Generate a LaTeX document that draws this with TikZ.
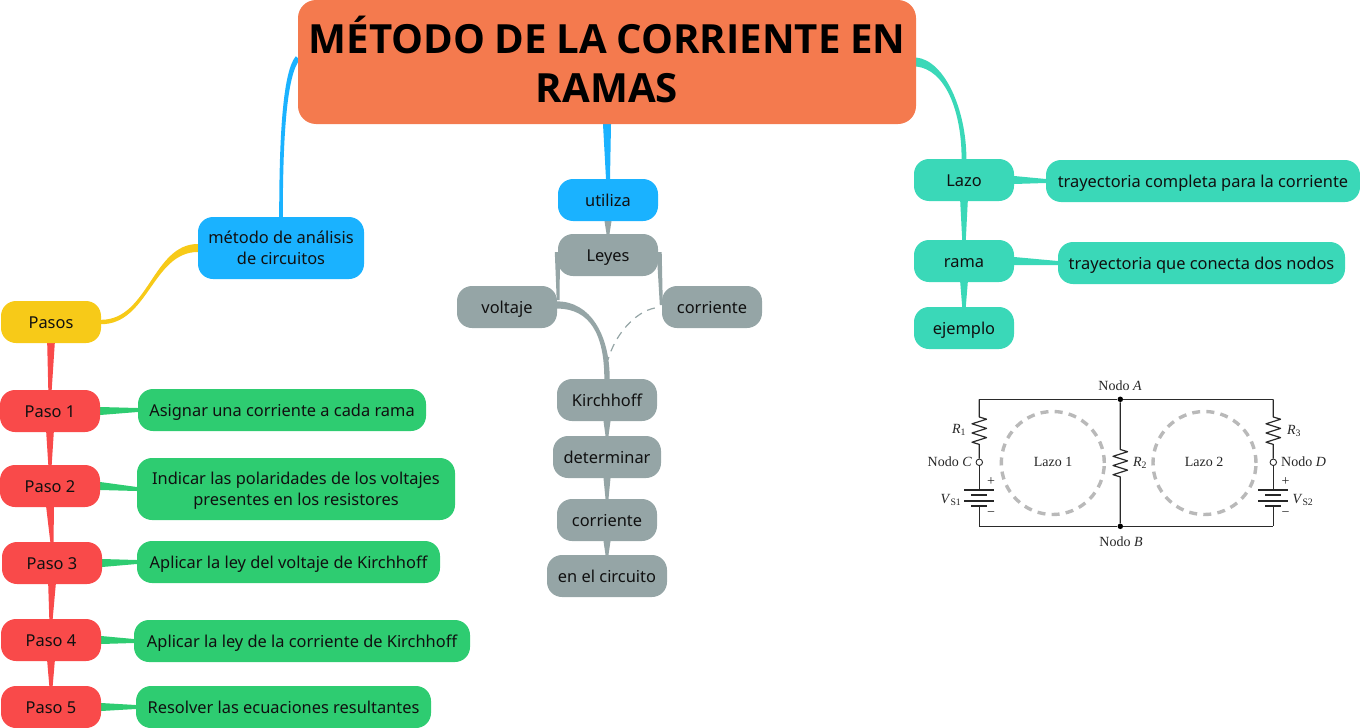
\documentclass[tikz,border=0pt]{standalone}
\usepackage{fontspec}
\setmainfont{Noto Sans}
\newfontfamily\titlef{Open Sans}
\newfontfamily\serifc{Liberation Serif}
\usetikzlibrary{calc,backgrounds}
\definecolor{orangeT}{HTML}{F47A4E}
\definecolor{blueB}{HTML}{1AB2FF}
\definecolor{greyB}{HTML}{95A5A6}
\definecolor{yellowB}{HTML}{F7CA18}
\definecolor{redB}{HTML}{F94A4A}
\definecolor{greenB}{HTML}{2ECC71}
\definecolor{tealB}{HTML}{3AD8B8}
\definecolor{txtc}{HTML}{101010}
\definecolor{wirec}{HTML}{2A2A2A}
\definecolor{loopc}{HTML}{B9B9B9}
\tikzset{
  box/.style={rounded corners=15pt,inner sep=0pt,align=center,text=txtc,font=\fontsize{16.4}{21}\selectfont,minimum height=42pt,text height=16.5pt,text depth=4pt},
  twolines/.style={text height={},text depth={},minimum height=62pt},
  titlebox/.style={box,twolines,fill=orangeT,text=black,rounded corners=18pt,font=\titlef\fontsize{40.2}{49}\selectfont\bfseries},
  bluebox/.style={box,fill=blueB},
  greybox/.style={box,fill=greyB},
  yellowbox/.style={box,fill=yellowB},
  redbox/.style={box,fill=redB},
  greenbox/.style={box,fill=greenB},
  tealbox/.style={box,fill=tealB},
  wire/.style={draw=wirec,line width=1.2pt},
  plate/.style={draw=black!85,line width=2.1pt},
  cirtext/.style={inner sep=0pt,text=black!85,font=\serifc\fontsize{14}{16}\selectfont},
  loopring/.style={draw=loopc,line width=3.4pt,dash pattern=on 8pt off 6.2pt},
  dotnode/.style={circle,fill=black,inner sep=0pt,minimum size=5.5pt},
  opennode/.style={circle,draw=wirec,fill=white,line width=.9pt,inner sep=0pt,minimum size=6.5pt}
}
% straight taper: colour, A, half-width vector at A, B, half-width vector at B
\newcommand\taper[5]{\fill[#1] ($(#2)+(#3)$) -- ($(#4)+(#5)$) -- ($(#4)-(#5)$) -- ($(#2)-(#3)$) -- cycle;}
% curved taper: colour, A, half A, ctrl off A, B, half B, ctrl off B
\newcommand\ctaper[7]{\fill[#1] ($(#2)+(#3)$) .. controls ($(#2)+(#3)+(#4)$) and ($(#5)+(#6)+(#7)$) .. ($(#5)+(#6)$) -- ($(#5)-(#6)$) .. controls ($(#5)-(#6)+(#7)$) and ($(#2)-(#3)+(#4)$) .. ($(#2)-(#3)$) -- cycle;}
\begin{document}
\begin{tikzpicture}[x=1pt,y=-1pt]
\useasboundingbox (0,0) rectangle (1360,728);
% nodes
\node[titlebox,minimum width=618pt,minimum height=124pt,text width=618pt] (title) at (607,62) {\spaceskip=9.5pt\relax MÉTODO DE LA CORRIENTE EN\\RAMAS\rule[-6pt]{0pt}{6pt}};
\node[bluebox,minimum width=100pt] (utiliza) at (608,200) {utiliza};
\node[greybox,minimum width=100pt] (leyes) at (608,255) {Leyes};
\node[greybox,minimum width=100pt] (voltaje) at (507,307) {voltaje};
\node[greybox,minimum width=100pt] (corr) at (712,307) {corriente};
\node[greybox,minimum width=100pt] (kirch) at (607,400) {Kirchhoff};
\node[greybox,minimum width=108pt] (deter) at (607,457) {determinar};
\node[greybox,minimum width=100pt] (corrb) at (607,520) {corriente};
\node[greybox,minimum width=120pt] (circ) at (607,576) {en el circuito};
\node[bluebox,twolines,minimum width=166pt] (metodo) at (281,248) {método de análisis\\de circuitos};
\node[yellowbox,minimum width=100pt] (pasos) at (51,322) {Pasos};
\node[redbox,minimum width=100pt] (p1) at (50,411) {Paso 1};
\node[redbox,minimum width=100pt] (p2) at (50,486) {Paso 2};
\node[redbox,minimum width=100pt] (p3) at (52,563) {Paso 3};
\node[redbox,minimum width=100pt] (p4) at (51,640) {Paso 4};
\node[redbox,minimum width=100pt] (p5) at (51,707) {Paso 5};
\node[greenbox,minimum width=288pt] (g1) at (282,410) {Asignar una corriente a cada rama};
\node[greenbox,twolines,minimum width=318pt] (g2) at (296,489) {\rule{0pt}{16.5pt}Indicar las polaridades de los voltajes\\presentes en los resistores};
\node[greenbox,minimum width=303pt] (g3) at (288.5,562) {Aplicar la ley del voltaje de Kirchhoff};
\node[greenbox,minimum width=336pt] (g4) at (302,641) {Aplicar la ley de la corriente de Kirchhoff};
\node[greenbox,minimum width=295pt] (g5) at (283.5,707) {Resolver las ecuaciones resultantes};
\node[tealbox,minimum width=100pt] (lazo) at (964,180) {Lazo};
\node[tealbox,minimum width=100pt] (rama) at (964,261) {rama};
\node[tealbox,minimum width=100pt] (ejem) at (964,328) {ejemplo};
\node[tealbox,minimum width=314pt] (t1) at (1203,181) {trayectoria completa para la corriente};
\node[tealbox,minimum width=287pt] (t2) at (1201.5,263) {trayectoria que conecta dos nodos};
% connectors
\begin{scope}[on background layer]
\taper{blueB}{title.south}{4,0}{utiliza.north}{2,0}
\taper{greyB}{utiliza.south}{3.5,0}{leyes.north}{1.5,0}
\taper{greyB}{kirch.south}{3.5,0}{deter.north}{1.5,0}
\taper{greyB}{deter.south}{3.5,0}{corrb.north}{1.5,0}
\taper{greyB}{corrb.south}{3.5,0}{circ.north}{1.5,0}
\taper{redB}{pasos.south}{3.8,0}{p1.north}{1.7,0}
\taper{redB}{p1.south}{3.8,0}{p2.north}{1.7,0}
\taper{redB}{p2.south}{3.8,0}{p3.north}{1.7,0}
\taper{redB}{p3.south}{3.8,0}{p4.north}{1.7,0}
\taper{redB}{p4.south}{3.8,0}{p5.north}{1.7,0}
\taper{greenB}{p1.east}{0,4}{g1.west}{0,2}
\taper{greenB}{p2.east}{0,4}{g2.west}{0,2}
\taper{greenB}{p3.east}{0,4}{g3.west}{0,2}
\taper{greenB}{p4.east}{0,4}{g4.west}{0,2}
\taper{greenB}{p5.east}{0,4}{g5.west}{0,2}
\taper{tealB}{lazo.south}{3.8,0}{rama.north}{1.8,0}
\taper{tealB}{rama.south}{3.8,0}{ejem.north}{1.8,0}
\taper{tealB}{lazo.east}{0,4}{t1.west}{0,2}
\taper{tealB}{rama.east}{0,4}{t2.west}{0,2}
\taper{greyB}{$(leyes.west)+(-0.5,-3)$}{2.5,0}{$(voltaje.east)+(1,-7)$}{1.5,0}
\taper{greyB}{$(leyes.east)+(1,-3)$}{2.5,0}{$(corr.west)+(-0.5,-2)$}{1.5,0}
\ctaper{blueB}{$(title.west)+(0,-4)$}{2,1.7}{-13,15}{metodo.north}{1.8,0}{0,-80}
\ctaper{tealB}{title.east}{0,4.5}{29,3}{lazo.north}{-2.4,0}{0,-48}
\ctaper{yellowB}{metodo.west}{0,4}{-45,0}{pasos.east}{0,2.2}{47,0}
\ctaper{greyB}{$(voltaje.east)+(0,-2)$}{0,3.6}{33,0}{kirch.north}{-2.7,0}{0,-44}
\end{scope}
\coordinate (dashstart) at ($(corr.west)+(-7,1)$);
\coordinate (dashend) at ($(kirch.north)+(1,-19)$);
\draw[greyB,line width=1.2pt,dash pattern=on 8pt off 6pt] (dashstart) .. controls +(-20,4) and +(7,-25) .. (dashend);
% circuit
\coordinate (TL) at (979.3,399.3);
\coordinate (TR) at (1273.3,399.3);
\coordinate (BL) at (979.3,526.3);
\coordinate (BR) at (1273.3,526.3);
\node[dotnode] (na) at (1120.3,399.3) {};
\node[dotnode] (nb) at (1120.3,526.3) {};
\node[opennode] (nc) at (979.3,462.3) {};
\node[opennode] (nd) at (1273.3,462.3) {};
\draw[wire] (TL) -- (na) -- (TR);
\draw[wire] (BL) -- (nb) -- (BR);
% R1
\draw[wire,line join=round] (TL) -- (979.3,417) -- ++(7.3,2.2) -- ++(-14.6,4.6) -- ++(14.6,4.6) -- ++(-14.6,4.6) -- ++(14.6,4.6) -- ++(-14.6,4.6) -- ++(7.3,2.2) -- (nc);
% R3
\draw[wire,line join=round] (TR) -- (1273.3,417) -- ++(7.3,2.2) -- ++(-14.6,4.6) -- ++(14.6,4.6) -- ++(-14.6,4.6) -- ++(14.6,4.6) -- ++(-14.6,4.6) -- ++(7.3,2.2) -- (nd);
% R2
\draw[wire,line join=round] (na) -- (1120.3,449.5) -- ++(7.3,2.2) -- ++(-14.6,4.6) -- ++(14.6,4.6) -- ++(-14.6,4.6) -- ++(14.6,4.6) -- ++(-14.6,4.6) -- ++(7.3,2.2) -- (nb);
% batteries
\foreach \n/\x in {nc/979.3,nd/1273.3}{
  \draw[wire] (\n) -- (\x,490);
  \draw[wire] (\x,506) -- (\x,526.3);
  \draw[plate] (\x-15,490) -- (\x+15,490);
  \draw[plate] (\x-8,495.3) -- (\x+8,495.3);
  \draw[plate] (\x-15,500.7) -- (\x+15,500.7);
  \draw[plate] (\x-8,506) -- (\x+8,506);
}
% loops
\node[circle,loopring,minimum size=103pt,inner sep=0pt] (l1) at (1052.8,463) {};
\node[circle,loopring,minimum size=103pt,inner sep=0pt] (l2) at (1204.5,463) {};
\node[cirtext] (ll1) at (1053,462) {Lazo 1};
\node[cirtext] (ll2) at (1204,462) {Lazo 2};
\node[cirtext] (ta) at (1120,385.5) {Nodo \textit{A}};
\node[cirtext] (tb) at (1121,541.5) {Nodo \textit{B}};
\node[cirtext,anchor=east] (tc) at (972,462) {Nodo \textit{C}};
\node[cirtext,anchor=west] (td) at (1281,462) {Nodo \textit{D}};
\node[cirtext] (r1) at (959,430) {\textit{R}\textsubscript{1}};
\node[cirtext] (r2) at (1140,462.5) {\textit{R}\textsubscript{2}};
\node[cirtext] (r3) at (1294,431) {\textit{R}\textsubscript{3}};
\node[cirtext] (v1) at (951,500) {\textit{V}\textsubscript{S1}};
\node[cirtext] (v2) at (1303,500) {\textit{V}\textsubscript{S2}};
\node[cirtext] (p1a) at (991,481.5) {+};
\node[cirtext] (m1a) at (991,514) {\textminus};
\node[cirtext] (p2a) at (1285.5,481.5) {+};
\node[cirtext] (m2a) at (1285.5,514) {\textminus};
\end{tikzpicture}
\end{document}
